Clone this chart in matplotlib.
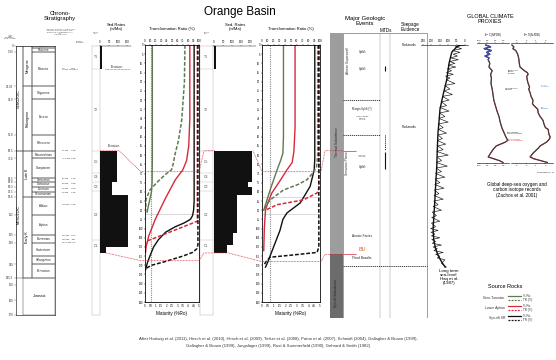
import numpy as np
import matplotlib
matplotlib.use('Agg')
import matplotlib.pyplot as plt
from matplotlib.patches import Rectangle
from matplotlib.lines import Line2D
from matplotlib.transforms import blended_transform_factory

plt.rcParams['font.family'] = ['Liberation Sans', 'DejaVu Sans']

W, H = 556, 360
GREEN, RED, BLACK = '#5f7a52', '#d9283a', '#111111'

# ---- chronostratigraphic chart (age in Ma, non-linear chart spacing) ----
chart_ages = [0, 5.33, 23.03, 33.9, 55.8, 65.5, 70.6, 83.5, 85.8, 89.3,
              93.5, 99.6, 112, 125, 130, 140, 145.5, 150, 160, 170]
chart_rows = [0, 6, 40.3, 53.6, 89.3, 105, 112.6, 132.6, 136, 141,
              146, 151, 169.3, 189.3, 197, 218.3, 232, 239.3, 254.3, 269.3]

stage_names = ['Quaternary', 'Pliocene', 'Miocene', 'Oligocene', 'Eocene', 'Paleocene',
               'Maastrichtian', 'Campanian', 'Santonian', 'Coniacian', 'Turonian',
               'Cenomanian', 'Albian', 'Aptian', 'Barremian', 'Hauterivian',
               'Valanginian', 'Berriasian']
stage_top = [0, 1.8, 5.33, 23.03, 33.9, 55.8, 65.5, 70.6, 83.5, 85.8, 89.3, 93.5,
             99.6, 112, 125, 130, 136.4, 140.2]
stage_base = [1.8, 5.33, 23.03, 33.9, 55.8, 65.5, 70.6, 83.5, 85.8, 89.3, 93.5,
              99.6, 112, 125, 130, 136.4, 140.2, 145.5]
period_names = ['Neogene', 'Paleogene', 'Late K', 'Early K']
period_top = [0, 23.03, 65.5, 99.6]
period_base = [23.03, 65.5, 99.6, 145.5]
era_names = ['CENOZOIC', 'MESOZOIC']
era_top = [0, 65.5]
era_base = [65.5, 145.5]

horizon_ages = [14, 65.5, 70.6, 83.5, 86.7, 90.4, 94, 105, 125, 127.6, 130]
horizon_labels = ['15i          MIS\n14 Ma  Miocene', '67 Ma     22tk', '77.5 Ma  19tk',
                  '85 Ma     17tk', '88 Ma     16tk', '90 Ma     15tk', '93 Ma     13tk',
                  '103 Ma   14tk', '112 Ma   12tk', '115 Ma    9tk', '117.5 Ma  8tk']

tract_names = ['T1', 'T2', 'C5', 'C4', 'C3', 'C2', 'C1']
tract_top = [0, 14, 65.5, 80, 86, 93, 128]
tract_base = [14, 65.5, 80, 86, 93, 128, 134.8]

# ---- sedimentation rates (m/Ma) ----
sed_top_A = [0, 65.5, 85.8, 97.5, 132]
sed_base_A = [14, 85.8, 97.5, 132, 134.8]
sed_rate_A = [11, 94, 67, 155, 33]
sed_top_B = [0, 65.5, 85.8, 89.3, 97.5, 123.7, 131]
sed_base_B = [14, 85.8, 89.3, 97.5, 123.7, 131, 134.8]
sed_rate_B = [11, 211, 189, 211, 126, 103, 74]

# ---- maturity (%Ro) and transformation ratio (%) histories, well A ----
ceno_ro_age_A = [0, 60, 75, 80, 84, 88, 91]
ceno_ro_A = [0.68, 0.68, 0.66, 0.6, 0.45, 0.3, 0.2]
apt_ro_age_A = [0, 40, 55, 63, 68, 73.5, 84, 95, 104, 110, 113]
apt_ro_A = [4.15, 4.15, 4.05, 3.85, 3.5, 2.8, 1.85, 0.95, 0.35, 0.1, 0.05]
syn_ro_age_A = [0, 85, 90, 93, 95, 97, 99, 102, 106, 110, 115, 119, 122.5]
syn_ro_A = [4.55, 4.55, 4.5, 4.4, 4.2, 3.6, 2.8, 1.9, 1.25, 0.8, 0.45, 0.2, 0.05]
ceno_tr_age_A = [0, 20, 41, 52, 59, 65, 68, 70, 74, 79, 84, 91]
ceno_tr_A = [74, 73, 68, 62, 56, 52, 49, 40, 25, 9, 2, 1]
apt_tr_age_A = [0, 96, 107, 109]
apt_tr_A = [97, 97, 2, 0]
syn_tr_age_A = [0, 109, 111, 113, 115, 118, 120, 122]
syn_tr_A = [98, 98, 96, 88, 70, 37, 12, 0]

# ---- well B ----
ceno_ro_age_B = [0, 50, 59, 63, 68, 73.5, 79, 84, 90]
ceno_ro_B = [1.85, 1.85, 1.8, 1.6, 1.3, 1.0, 0.7, 0.45, 0.15]
apt_ro_age_B = [0, 45, 58, 64, 68, 73.5, 80.6, 86, 90, 100, 112]
apt_ro_B = [2.85, 2.85, 2.75, 2.6, 2.15, 1.6, 0.85, 0.5, 0.3, 0.2, 0.15]
syn_ro_age_B = [0, 55, 62, 68, 77, 86, 91.5, 95, 101, 110, 119, 121]
syn_ro_B = [4.55, 4.55, 4.55, 4.5, 4.15, 3.3, 2.15, 1.8, 1.55, 1.0, 0.45, 0.3]
ceno_tr_age_B = [0, 60, 66.5, 70, 73.5, 76, 79, 84.4, 88, 90]
ceno_tr_B = [96, 96, 94, 87, 77, 62, 37, 14, 6, 3]
apt_tr_age_B = [0, 78, 80.6, 84.4, 87, 90]
apt_tr_B = [98, 98, 95, 71, 26, 6]
syn_tr_age_B = [0, 110, 113, 114.5, 115.6, 118, 120]
syn_tr_B = [98, 98, 95, 50, 14, 7, 3]

# ---- global climate proxies ----
lt_age = [0, 1, 4, 10, 19, 27, 35, 42, 48, 57, 66, 75, 84, 93, 100, 106, 111, 115, 118, 121]
lt_sl = [30, 49, 79, 95, 109, 130, 149, 155, 161, 165, 168, 174, 179, 185, 190, 186, 175, 158, 140, 118]
st_age = [0, 1, 2, 3, 4, 5, 6, 7, 8, 9,
          10, 11, 12, 13, 14, 15, 16, 17, 18, 19,
          21, 22, 24, 25, 27, 28, 30, 31, 33, 34,
          36, 37, 39, 40, 42, 43, 45, 46, 48, 49,
          51, 52, 54, 55, 57, 58, 60, 61, 63, 64,
          66, 67, 69, 70, 72, 73, 75, 76, 78, 79,
          81, 82, 84, 85, 87, 88, 90, 91, 93, 94,
          96, 97, 99, 100, 101, 102, 103, 104, 105, 106,
          107, 108, 109, 110, 111, 112, 113, 114, 115, 116,
          117, 119, 121]
st_sl = [0, 60, 20, 75, 30, 70, 45, 85, 40, 90,
         60, 100, 55, 105, 80, 110, 70, 115, 90, 110,
         60, 120, 90, 125, 75, 135, 95, 140, 110, 150,
         95, 150, 120, 155, 100, 160, 130, 158, 110, 160,
         135, 165, 115, 162, 130, 168, 100, 165, 140, 170,
         105, 172, 140, 175, 120, 178, 150, 180, 125, 182,
         155, 184, 130, 186, 160, 190, 140, 195, 170, 198,
         150, 200, 175, 205, 160, 202, 180, 200, 150, 198,
         175, 195, 140, 190, 165, 185, 130, 175, 150, 165,
         120, 140, 110]
c_age = [0, 1, 2, 3, 4, 5, 6, 7, 8, 10, 12, 14, 16, 18, 21, 24, 27, 30, 33, 36,
         39, 42, 45, 48, 50, 52, 53, 55, 57, 59, 61, 62, 63, 64]
c_val = [0.3, 0.9, 0.1, 1.0, 0.4, 0.8, 0.2, 0.7, 0.6, 0.8, 0.7, 1.1, 0.9, 1.0, 0.95, 1.1, 1.2, 1.3, 1.5, 1.7,
         1.95, 2.1, 2.3, 2.6, 2.8, 3.05, 2.7, 1.6, 1.2, 0.9, 0.6, 1.3, 2.0, 2.45]
o_age = [0, 1, 2, 3, 4, 5, 7, 9, 11, 12, 14, 15, 16, 17, 19, 21, 23, 24, 26, 28,
         30, 32, 33, 34, 35, 37, 39, 41, 43, 45, 46, 48, 49, 50, 51, 52, 53, 55, 56, 57,
         59, 61, 62, 63, 64]
o_val = [3.5, 3.3, 3.4, 3.1, 3.0, 2.9, 2.8, 2.75, 2.7, 2.65, 2.2, 1.9, 1.8, 1.95, 1.9, 1.8, 1.65, 1.75, 1.6, 1.5,
         1.3, 1.35, 1.2, 1.0, 0.8, 0.75, 0.55, 0.25, 0.15, 0.0, -0.3, -0.35, -0.4, -0.5, -0.45, -0.3, -0.1, 0.55, 0.7, 0.9,
         1.3, 1.6, 1.2, 0.5, -0.2]

# ---------------------------------------------------------------------------
AG = np.r_[-60, chart_ages, 260]
RW = np.r_[-68, chart_rows, 404]


def fwd(a):
    return np.interp(a, AG, RW)


def inv(r):
    return np.interp(r, RW, AG)


fig = plt.figure(figsize=(5.56, 3.6), dpi=100)


def panel(x0, y0, x1, y1):
    return fig.add_axes([x0 / W, 1 - y1 / H, (x1 - x0) / W, (y1 - y0) / H])


def chrono(ax, y0=45.7, y1=315):
    ax.set_yscale('function', functions=(fwd, inv))
    ax.set_ylim(inv(y1 - 45.7), inv(y0 - 45.7))


def ftext(x, y, s, size=3.0, **kw):
    kw.setdefault('ha', 'center')
    kw.setdefault('va', 'center')
    fig.text(x / W, 1 - y / H, s, fontsize=size, **kw)


def mid(t, b):
    return inv((fwd(t) + fwd(b)) / 2)


# ---- titles ----
ftext(240, 12, 'Orange Basin', 8.5)
ftext(60, 16, 'Chrono-\nStratigraphy', 4.2, linespacing=1.1)
ftext(60, 32, 'Sequence stratigraphy & ages from\nMuntingh & Brown (1993) (after\nBrown et al. & Jungslager 1999)\n(after\nHaq et al. 1987)',
      1.4, color='#555', linespacing=1.1)
ftext(10, 37, 'Age\n(Ma)\nGradstein\net al. (2004)', 1.6, color='#444', linespacing=1.1)
ftext(80, 42, 'Seismic\nHorizons', 1.5, color='#444')

# ---- chronostratigraphic table ----
ax_t = panel(15.7, 45.7, 55, 315)
chrono(ax_t)
ax_t.set_xlim(0, 1)
ax_t.set_xticks([])
ax_t.set_yticks(chart_ages)
ax_t.set_yticklabels([f'{a:g}' for a in chart_ages])
ax_t.tick_params(axis='y', labelsize=2.1, length=1.2, width=0.3, pad=0.6, labelcolor='#333', color='#666')
for s in ax_t.spines.values():
    s.set_linewidth(0.4)
for n, t, b in zip(stage_names, stage_top, stage_base):
    ax_t.add_patch(Rectangle((0.41, t), 0.59, b - t, fill=False, lw=0.35, ec='#444'))
    ax_t.text(0.705, mid(t, b), n, fontsize=1.3 if n == 'Quaternary' else 2.1,
              ha='center', va='center', color='#222')
for n, t, b in zip(period_names, period_top, period_base):
    ax_t.add_patch(Rectangle((0.18, t), 0.23, b - t, fill=False, lw=0.35, ec='#444'))
    ax_t.text(0.295, mid(t, b), n, fontsize=2.6, rotation=90, ha='center', va='center')
for n, t, b in zip(era_names, era_top, era_base):
    ax_t.add_patch(Rectangle((0, t), 0.18, b - t, fill=False, lw=0.35, ec='#444'))
    ax_t.text(0.09, mid(t, b), n, fontsize=2.6, rotation=90, ha='center', va='center')
ax_t.add_patch(Rectangle((0.18, 145.5), 0.82, 24.5, fill=False, lw=0.35, ec='#444'))
ax_t.text(0.6, mid(145.5, 170), 'Jurassic', fontsize=2.6, ha='center', va='center')
htr = blended_transform_factory(fig.transFigure, ax_t.transData)
for a, lab in zip(horizon_ages, horizon_labels):
    ax_t.text(62 / W, a, lab, transform=htr, fontsize=1.6, ha='left', va='center',
              color='#333', linespacing=1.0)


# ---- system tracts + sedimentation rates ----
def tract_panel(x0, x1):
    ax = panel(x0, 45.7, x1, 315)
    chrono(ax)
    ax.set_xlim(0, 1)
    ax.set_xticks([])
    ax.set_yticks([])
    for s in ax.spines.values():
        s.set_linewidth(0.3)
        s.set_color('#aaa')
    ax.hlines(tract_base[:-1], 0, 1, colors='#bbb', lw=0.3)
    for n, t, b in zip(tract_names, tract_top, tract_base):
        ax.text(0.5, mid(t, b), n, fontsize=2.5, ha='center', va='center', color='#555')
    ftext((x0 + x1) / 2, 33, 'System\ntracts', 1.3, color='#555')
    return ax


def sed_panel(x0, x1, xlim, ticks, tops, bases, rates):
    ax = panel(x0, 45.7, x1, 315)
    chrono(ax)
    ax.barh(tops, rates, height=np.subtract(bases, tops), align='edge', color=BLACK, lw=0)
    ax.set_xlim(*xlim)
    chrono(ax)
    ax.xaxis.tick_top()
    ax.set_xticks(ticks)
    ax.tick_params(axis='x', labelsize=2.0, length=1, width=0.3, pad=0.5)
    ax.set_yticks([])
    for k in ['bottom', 'left', 'right']:
        ax.spines[k].set_visible(False)
    ax.spines['top'].set_linewidth(0.3)
    ax.patch.set_alpha(0)
    return ax


ax_s1 = tract_panel(92, 100)
ax_r1 = sed_panel(100, 131, (0, 172), [0, 50, 100, 150], sed_top_A, sed_base_A, sed_rate_A)
ax_s2 = tract_panel(200, 213)
ax_r2 = sed_panel(213, 256, (-6, 234), [0, 50, 100, 150, 200], sed_top_B, sed_base_B, sed_rate_B)
ftext(116, 27, 'Sed.Rates\n(m/Ma)', 3.0, linespacing=1.1)
ftext(235, 27, 'Sed. Rates\n(m/Ma)', 3.0, linespacing=1.1)
ax_r1.hlines(14, 25, 165, colors=RED, linestyles=(0, (1, 1)), lw=0.5)
ftext(117, 67, 'Erosion', 2.6, color='#333')
ftext(114, 146, 'Erosion', 2.6, color='#333')


# ---- maturity / transformation ratio panels ----
def tr_panel(x0, x1, ro_curves, tr_curves, ref_ro, grey_lines):
    ax = panel(x0, 45, x1, 302)
    top = ax.twiny()
    ax.axvline(ref_ro, color='#888', ls=(0, (1, 1)), lw=0.8)
    for a in grey_lines:
        ax.axhline(a, color='#bbb', lw=0.4)
    for (age, ro), c in zip(ro_curves, [GREEN, RED, BLACK]):
        ax.plot(ro, age, color=c, lw=1.0)
    for (age, tr), c in zip(tr_curves, [GREEN, RED, BLACK]):
        top.plot(tr, age, color=c, lw=1.1, ls=(0, (2.5, 1.2)))
    ax.set_xlim(0, 5)
    top.set_xlim(0, 100)
    ax.set_ylim(140, 0)
    ax.set_yticks(np.arange(0, 141, 5))
    ax.tick_params(axis='y', labelsize=1.9, length=1, width=0.3, pad=0.5)
    ax.set_xticks(np.arange(0, 5.01, 0.5))
    ax.set_xticklabels(['0', '0.5', '1', '1.5', '2', '2.5', '3', '3.5', '4', '4.5', '5'])
    ax.tick_params(axis='x', labelsize=2.1, length=1, width=0.3, pad=0.5)
    top.set_xticks(range(0, 101, 10))
    top.tick_params(axis='x', labelsize=2.1, length=1, width=0.3, pad=0.5)
    for a in (ax, top):
        for s in a.spines.values():
            s.set_linewidth(0.4)
    cx = (x0 + x1) / 2
    ftext(cx, 29, 'Transformation Ratio (%)', 3.0)
    ftext(cx, 314, 'Maturity (%Ro)', 3.3)
    return ax


ax_tr1 = tr_panel(145, 199,
                  [(ceno_ro_age_A, ceno_ro_A), (apt_ro_age_A, apt_ro_A), (syn_ro_age_A, syn_ro_A)],
                  [(ceno_tr_age_A, ceno_tr_A), (apt_tr_age_A, apt_tr_A), (syn_tr_age_A, syn_tr_A)],
                  0.55, [92])
ax_tr2 = tr_panel(262, 320,
                  [(ceno_ro_age_B, ceno_ro_B), (apt_ro_age_B, apt_ro_B), (syn_ro_age_B, syn_ro_B)],
                  [(ceno_tr_age_B, ceno_tr_B), (apt_tr_age_B, apt_tr_B), (syn_tr_age_B, syn_tr_B)],
                  0.65, [83, 92])

# ---- major geologic events ----
ax_ev = panel(330, 33, 430, 318)
chrono(ax_ev, 33, 318)
ax_ev.set_xlim(330, 430)
ax_ev.axis('off')
e_top, e_bot = inv(33 - 45.7), inv(318 - 45.7)
ax_ev.add_patch(Rectangle((330, e_top), 13, 135.5 - e_top, color='#9d9d9d', lw=0))
ax_ev.add_patch(Rectangle((330, 135.5), 13, e_bot - 135.5, color='#6c6c6c', lw=0))
ax_ev.add_patch(Rectangle((343, e_top), 84, e_bot - e_top, fill=False, lw=0.4, ec='#555'))
ax_ev.vlines([380, 390], e_top, e_bot, colors='#888', lw=0.3)
ax_ev.hlines([34.3, 55.8], 343, 380, colors='#222', linestyles=(0, (1.5, 1)), lw=0.6)
ax_ev.hlines(141, 343, 427, colors='#222', linestyles=(0, (1.5, 1)), lw=0.6)
ax_ev.hlines([65.5, 135.5], 343, 356, colors=RED, lw=0.5)
ax_ev.vlines(385, 12.7, 15.5, colors=BLACK, lw=0.8)
ax_ev.vlines(385, 55.8, 65, colors=BLACK, linestyles=(0, (1, 1)), lw=0.7)
ax_ev.vlines(385, 66.3, 77.5, colors=BLACK, lw=0.8)
ev = [(362, 5.6, 'Uplift', 2.3, '#222'), (362, 14.4, 'Uplift', 2.3, '#222'),
      (362, 40, 'Margin Uplift (?)', 2.0, '#222'),
      (362, 45.5, 'Highly dome\nfaulted\ninterval', 1.6, '#333'),
      (362, 69, 'PROGRA-\nDATION', 1.4, '#333'), (362, 76.3, 'Uplift', 2.3, '#222'),
      (362, 125.5, 'Anoxic Facies', 2.3, '#222'), (362, 133.2, 'BU', 4.0, '#e0602a'),
      (362, 137.3, 'Flood Basalts', 2.3, '#222'),
      (409, -0.5, 'Pockmarks', 2.2, '#111'), (409, 51, 'Pockmarks', 2.2, '#111')]
for x, a, s, fs, c in ev:
    ax_ev.text(x, a, s, fontsize=fs, color=c, ha='center', va='center', linespacing=1.0)
ax_ev.text(336.5, 60, 'Thermal Subsidence', fontsize=2.3, rotation=90, ha='center', va='center', color='#222')
ax_ev.text(336.5, 155, 'Syn-rift Subsidence', fontsize=2.3, rotation=90, ha='center', va='center', color='#222')
ax_ev.text(347.5, 10, 'African Superswell', fontsize=2.3, rotation=90, ha='center', va='center', color='#333')
ax_ev.text(347.5, 74, 'Senonian Phase', fontsize=2.3, rotation=90, ha='center', va='center', color='#333')
ftext(365, 21, 'Major Geologic\nEvents', 4.3, linespacing=1.0)
ftext(386, 30, 'MTDs', 3.3)
ftext(410, 27, 'Seepage\nEvidence', 3.3, linespacing=1.0)


# ---- connectors between time scales ----
def fy(ax, a):
    d = ax.transData.transform((ax.get_xlim()[0], a))
    return fig.transFigure.inverted().transform(d)[1]


def connector(pts):
    xs = [p[0] / W for p in pts]
    ys = [fy(ax, a) for _, ax, a in pts]
    fig.add_artist(Line2D(xs, ys, transform=fig.transFigure, color=RED, lw=0.55, ls=(0, (1, 1))))


connector([(100, ax_r1, 65.5), (119, ax_r1, 65.5), (141, ax_tr1, 69), (199, ax_tr1, 69),
           (204, ax_r2, 65.5), (215, ax_r2, 65.5)])
connector([(253, ax_r2, 65.5), (262, ax_tr2, 69), (321, ax_tr2, 69), (325, ax_ev, 65.5), (343, ax_ev, 65.5)])
connector([(106, ax_r1, 134.8), (141, ax_tr1, 117.5), (199, ax_tr1, 117.5), (204, ax_r2, 134.8),
           (228, ax_r2, 134.8), (262, ax_tr2, 118), (321, ax_tr2, 118), (325, ax_ev, 135.5),
           (343, ax_ev, 135.5)])

# ---- global climate proxies ----
ftext(490, 19, 'GLOBAL CLIMATE\nPROXIES', 4.0, linespacing=1.1)
ax_sl = panel(421, 45, 468, 302)
ax_sl.plot(st_sl, st_age, color=BLACK, lw=0.45)
ax_sl.plot(lt_sl, lt_age, color=BLACK, lw=1.0)
ax_sl.set_xlim(262, -18)
ax_sl.set_ylim(140, 0)
ax_sl.xaxis.tick_top()
ax_sl.set_xticks([250, 200, 150, 100, 50, 0])
ax_sl.tick_params(axis='x', labelsize=2.1, length=1, width=0.3, pad=0.5)
ax_sl.set_yticks([])
for k in ['bottom', 'left', 'right']:
    ax_sl.spines[k].set_visible(False)
ax_sl.spines['top'].set_linewidth(0.4)
ax_sl.patch.set_alpha(0)
ftext(449, 277, 'Long term\nsea-level\nHaq et al.\n(1987)', 3.2, linespacing=1.1)

ax_c = panel(477, 43, 509, 163)
ax_c.plot(c_val, c_age, color=BLACK, lw=0.9)
ax_c.plot(c_val, c_age, color='#c8505a', lw=0.3)
ax_c.plot(c_val[:9], c_age[:9], color='#3b4fb0', lw=0.9)
ax_c.set_xlim(-0.8, 3.2)
ax_c.set_ylim(64.3, -1.1)
ax_o = panel(511, 43, 553, 163)
ax_o.plot(o_val, o_age, color=BLACK, lw=0.9)
ax_o.plot(o_val, o_age, color='#c8505a', lw=0.3)
ax_o.set_xlim(3.6, -0.8)
ax_o.set_ylim(64.3, -1.1)
for ax, tks in [(ax_c, [-0.5, 0.5, 1.5, 2.5]), (ax_o, [3, 2, 1, 0])]:
    ax.set_yticks([])
    ax.set_xticks(tks)
    ax.tick_params(axis='x', labelsize=1.7, length=1, width=0.3, pad=0.4,
                   top=True, labeltop=True, bottom=True, labelbottom=True)
    for k in ['left', 'right']:
        ax.spines[k].set_visible(False)
    for k in ['top', 'bottom']:
        ax.spines[k].set_linewidth(0.4)
    ax.patch.set_alpha(0)
ftext(493, 36, r'$\delta^{13}$C (‰PDB)', 1.8)
ftext(532, 36, r'$\delta^{18}$O (‰PDB)', 1.8)
ftext(546, 172, 'Temperature (°C)', 1.6)
iso_notes = [(508, 72, 'Mid-Miocene\nClimatic\nOptimum', BLACK), (505, 89, 'Late Oligocene\nWarming', BLACK),
             (507, 133, 'Early Eocene\nClimatic Optimum', BLACK), (507, 140, 'Late Paleocene\nThermal Maximum', RED)]
for x, y, s, c in iso_notes:
    ftext(x, y, s, 1.4, color=c, ha='left', linespacing=1.0)
ftext(541, 86, 'E. Ant.\nIce-sheets', 1.4, color='#2a6fc0', ha='left', linespacing=1.0)
ftext(541, 108, 'Oi-1\nGlaciation', 1.4, color='#2a6fc0', ha='left', linespacing=1.0)
ftext(517, 190, 'Global deep-sea oxygen and\ncarbon isotope records\n(Zachos et al. 2001)', 3.3, linespacing=1.15)

# ---- source rock legend ----
ftext(505, 286, 'Source Rocks', 4.0)
for i, (name, c) in enumerate([('Ceno-Turonian', GREEN), ('Lower Aptian', RED), ('Syn-rift SR', BLACK)]):
    y = 298 + 10 * i
    ftext(505, y, name, 2.4, ha='right', color='#333')
    fig.add_artist(Line2D([508 / W, 521 / W], [1 - (y - 2) / H] * 2, transform=fig.transFigure, color=c, lw=0.9))
    fig.add_artist(Line2D([508 / W, 521 / W], [1 - (y + 2) / H] * 2, transform=fig.transFigure, color=c, lw=0.9,
                          ls=(0, (1.5, 1))))
    ftext(523, y - 2, '% Ro', 2.2, ha='left', color='#333')
    ftext(523, y + 2, 'TR (%)', 2.2, ha='left', color='#333')

# ---- references ----
ftext(278, 339, 'After Hartwig et al. (2011), Hirsch et al. (2010), Hirsch et al. (2009), Tinker et al. (2008), '
                'Paton et al. (2007), Schmidt (2004), Gallagher & Brown (1999),', 3.1, color='#333')
ftext(278, 346, 'Gallagher & Brown (1999), Jungslager (1999), Rust & Summerfield (1990), Gehrard & Smith (1982)',
      3.1, color='#333')

fig.savefig('out.png', dpi=100)
